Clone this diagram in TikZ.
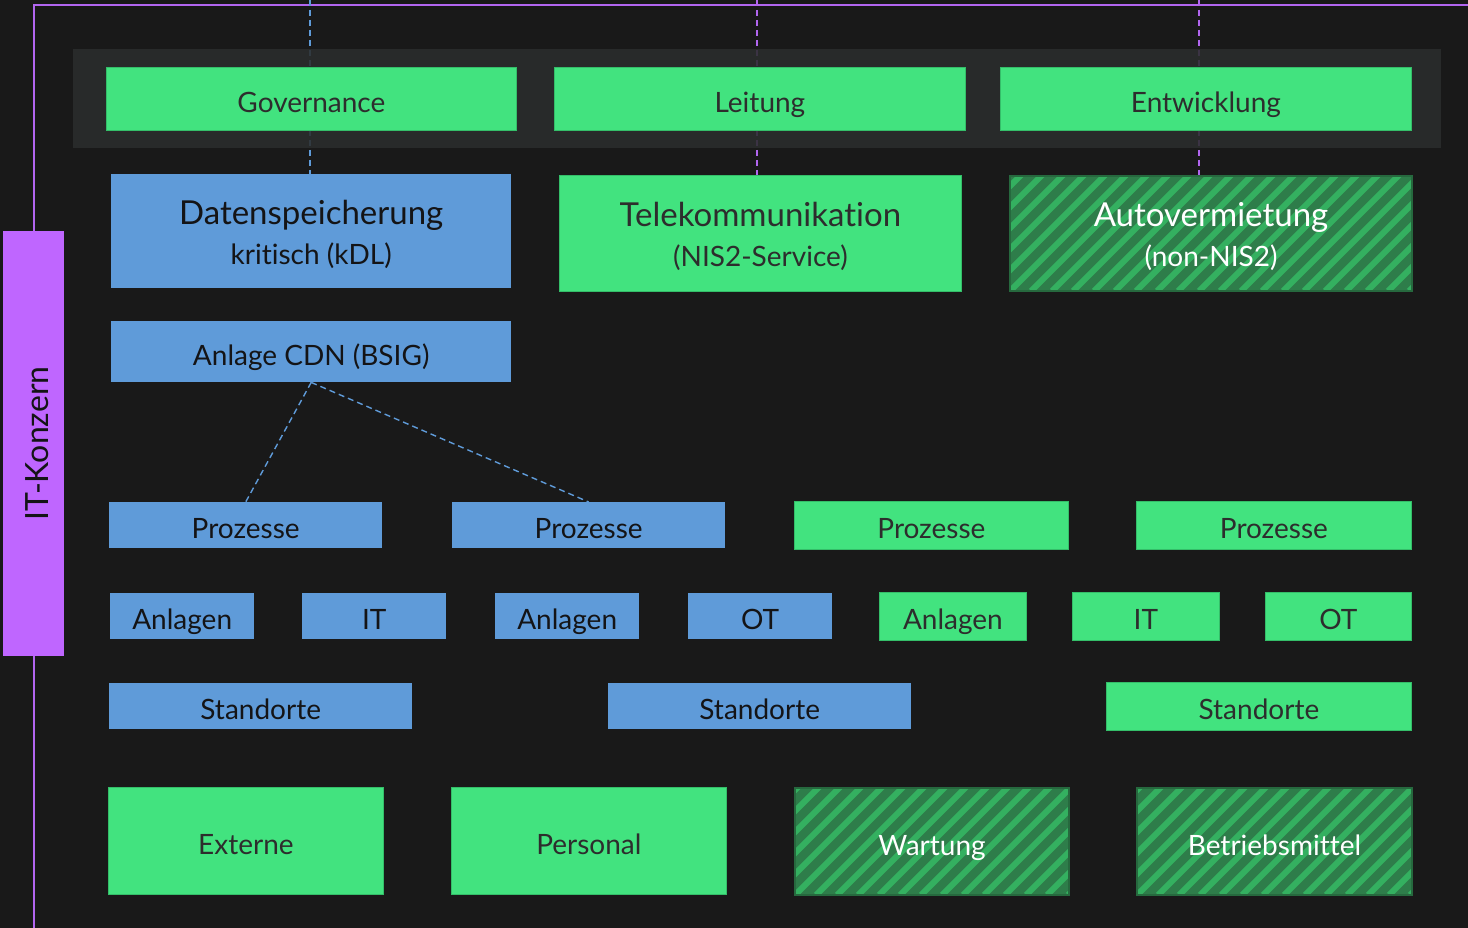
\documentclass[tikz,border=0pt]{standalone}
\usepackage{fontspec}
\setmainfont[Ligatures=NoCommon]{Lato}
\usetikzlibrary{calc}

\definecolor{bgdark}{RGB}{25,25,25}
\definecolor{bandgrey}{RGB}{43,45,45}
\definecolor{nisgreen}{RGB}{66,227,127}
\definecolor{nisgreenedge}{RGB}{52,190,105}
\definecolor{kritblue}{RGB}{95,155,217}
\definecolor{konzernpurple}{RGB}{191,102,255}
\definecolor{framepurple}{RGB}{178,102,240}
\definecolor{hatchbase}{RGB}{46,125,74}
\definecolor{hatchstripe}{RGB}{52,176,96}
\definecolor{hatchedge}{RGB}{38,105,62}
\definecolor{darktext}{RGB}{45,45,45}
\definecolor{bluetext}{RGB}{20,20,22}

\newcommand{\bigline}{\fontsize{33}{40}\selectfont}
\newcommand{\toplift}{\rule{0pt}{33pt}}
\newcommand{\botdrop}{\rule[-7pt]{0pt}{1pt}}

\tikzset{
  x=1pt, y=-1pt,
  base/.style={anchor=north west, inner sep=0pt, align=center,
    text height=27pt, text depth=0pt,
    font=\fontsize{28}{40}\selectfont},
  twoline/.style={text height={}, text depth={}},
  greenbox/.style={base, fill=nisgreen, draw=nisgreenedge, line width=0.8pt, text=darktext},
  bluebox/.style={base, fill=kritblue, text=bluetext},
  hatchbox/.style={base, fill=hatchbase, draw=hatchedge, line width=2pt, text=white,
    path picture={
      \foreach \k in {-8,...,22}
        \draw[hatchstripe, line width=6pt]
          ([xshift=\k*21pt]path picture bounding box.south west) -- ++(160pt,160pt);
    }},
  dashblue/.style={draw=kritblue, line width=1.4pt, dash pattern=on 6pt off 4pt},
  dashpurple/.style={draw=framepurple, line width=1.6pt, dash pattern=on 6pt off 4pt},
  frameline/.style={draw=framepurple, line width=2pt},
}

% \boxnode{style}{name}{x1}{y1}{x2}{y2}{text}
\newcommand{\boxnode}[7]{%
  \node[#1, minimum width={#5-#3}, minimum height={#6-#4}] (#2) at (#3,#4) {#7};}

\begin{document}
\begin{tikzpicture}
  % canvas
  \fill[bgdark] (0,0) rectangle (1468,928);
  \useasboundingbox (0,0) rectangle (1468,928);

  % group frame
  \coordinate (frameTL) at (34,5);
  \coordinate (frameTR) at (1468,5);
  \coordinate (frameBL) at (34,928);
  \draw[frameline] (frameBL) -- (frameTL) -- (frameTR);

  % level markers
  \coordinate (topA) at (310,0);
  \coordinate (topB) at (757,0);
  \coordinate (topC) at (1199,0);
  \coordinate (endA) at (310,174);
  \coordinate (endB) at (757,175);
  \coordinate (endC) at (1199,175);
  \draw[dashblue] (topA) -- (endA);
  \draw[dashpurple] (topB) -- (endB);
  \draw[dashpurple] (topC) -- (endC);

  % management band
  \fill[bandgrey, opacity=0.88] (73,49) rectangle (1441,148);
  \boxnode{greenbox}{gov}{106}{67}{516}{130}{Governance}
  \boxnode{greenbox}{lei}{554}{67}{965}{130}{Leitung}
  \boxnode{greenbox}{ent}{1000}{67}{1411}{130}{Entwicklung}

  % services
  \boxnode{bluebox,twoline}{dsp}{111}{174}{511}{288}{\toplift{\bigline Datenspeicherung}\\kritisch (kDL)\botdrop}
  \boxnode{greenbox,twoline}{tel}{559}{175}{961}{291}{\toplift{\bigline Telekommunikation}\\(NIS2-Service)\botdrop}
  \boxnode{hatchbox,twoline}{auto}{1009}{175}{1411}{290}{\toplift{\bigline Autovermietung}\\(non-NIS2)\botdrop}

  \boxnode{bluebox}{cdn}{111}{321}{511}{382}{Anlage CDN (BSIG)}

  % processes
  \boxnode{bluebox}{proA}{109}{502}{382}{548}{Prozesse}
  \boxnode{bluebox}{proB}{452}{502}{725}{548}{Prozesse}
  \boxnode{greenbox}{proC}{794}{501}{1068}{549}{Prozesse}
  \boxnode{greenbox}{proD}{1136}{501}{1411}{549}{Prozesse}

  \draw[dashblue] (cdn.south) -- (proA.north);
  \draw[dashblue] (cdn.south) -- (proB.north);

  % assets
  \boxnode{bluebox}{anlA}{110}{593}{254}{639}{Anlagen}
  \boxnode{bluebox}{itA}{302}{593}{446}{639}{IT}
  \boxnode{bluebox}{anlB}{495}{593}{639}{639}{Anlagen}
  \boxnode{bluebox}{otB}{688}{593}{832}{639}{OT}
  \boxnode{greenbox}{anlC}{879}{592}{1026}{640}{Anlagen}
  \boxnode{greenbox}{itC}{1072}{592}{1219}{640}{IT}
  \boxnode{greenbox}{otC}{1265}{592}{1411}{640}{OT}

  % sites
  \boxnode{bluebox}{stoA}{109}{683}{412}{729}{Standorte}
  \boxnode{bluebox}{stoB}{608}{683}{911}{729}{Standorte}
  \boxnode{greenbox}{stoC}{1106}{682}{1411}{730}{Standorte}

  % resources
  \boxnode{greenbox}{ext}{108}{787}{383}{894}{Externe}
  \boxnode{greenbox}{per}{451}{787}{726}{894}{Personal}
  \boxnode{hatchbox}{war}{794}{787}{1068}{894}{Wartung}
  \boxnode{hatchbox}{bet}{1136}{787}{1411}{894}{Betriebsmittel}

  % group label
  \node[anchor=north west, fill=konzernpurple, inner sep=0pt,
        minimum width=61, minimum height=425] (konz) at (3,231) {};
  \node[rotate=90, text=bluetext, inner sep=0pt, text height=30pt, text depth=0pt,
        font=\fontsize{32}{36}\selectfont] (konzlabel) at (konz.center) {IT-Konzern};
\end{tikzpicture}
\end{document}
